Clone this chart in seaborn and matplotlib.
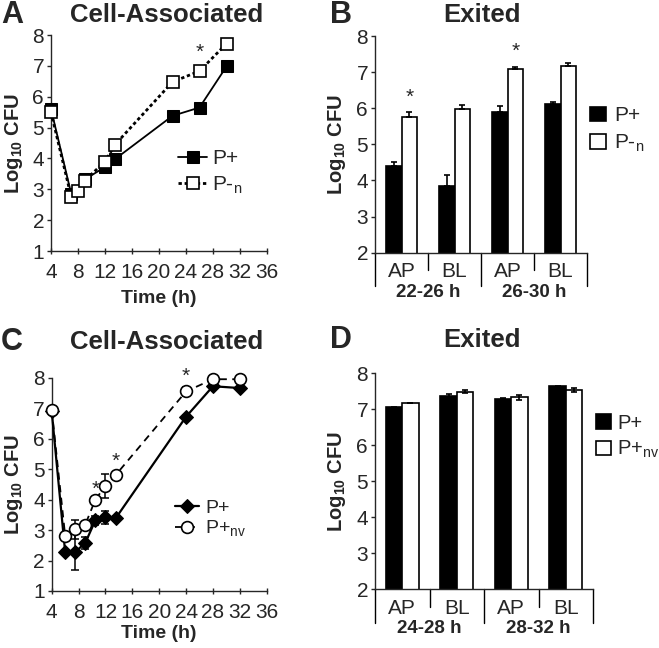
import numpy as np
import pandas as pd
import matplotlib
matplotlib.use('Agg')
import matplotlib.pyplot as plt
import matplotlib.transforms as mtrans
import seaborn as sns

# --- Data ---
# Panel A: cell-associated, P+ vs P-n
a_time_pos = [4, 7, 9, 12, 13.5, 22, 26, 30]
a_pos = [5.6, 2.85, 3.32, 3.72, 3.98, 5.38, 5.65, 6.98]
a_time_neg = [4, 7, 8, 9, 12, 13.5, 22, 26, 30]
a_neg = [5.5, 2.75, 2.95, 3.28, 3.9, 4.45, 6.48, 6.83, 7.72]
a_stars = [(26, 7.45)]

# Panel C: cell-associated, P+ vs P+nv
c_time = [4, 6, 7.5, 9, 10.5, 12, 13.5, 24, 28, 32]
c_pos = [6.9, 2.28, 2.28, 2.58, 3.32, 3.42, 3.38, 6.72, 7.72, 7.66]
c_pos_err = [0.0, 0.08, 0.6, 0.2, 0.15, 0.22, 0.08, 0.05, 0.05, 0.05]
c_nv = [6.95, 2.82, 3.02, 3.18, 4.0, 4.45, 4.8, 7.55, 7.95, 7.95]
c_nv_err = [0.0, 0.05, 0.3, 0.08, 0.1, 0.4, 0.08, 0.15, 0.03, 0.03]
c_stars = [(10.5, 4.35), (13.5, 5.25), (24, 8.05)]

# Panels B and D: exited bacteria
bar_sites = ['AP', 'BL', 'AP', 'BL']
b_groups = ['22-26 h', '26-30 h']
b_pos = [4.41, 3.86, 5.9, 6.12]
b_pos_err = [0.1, 0.28, 0.17, 0.06]
b_neg = [5.77, 5.97, 7.1, 7.16]
b_neg_err = [0.13, 0.12, 0.04, 0.1]
b_stars = [(0, 6.3), (2, 7.58)]

d_groups = ['24-28 h', '28-32 h']
d_pos = [7.06, 7.38, 7.3, 7.64]
d_pos_err = [0.01, 0.05, 0.02, 0.01]
d_nv = [7.17, 7.49, 7.33, 7.54]
d_nv_err = [0.0, 0.04, 0.06, 0.06]

LBL_POS = 'P+'
LBL_NEG = 'P-$_{\\mathregular{n}}$'
LBL_NV = 'P+$_{\\mathregular{nv}}$'

# --- Style ---
sns.set_style('ticks')
plt.rcParams['font.family'] = ['Liberation Sans', 'DejaVu Sans']
plt.rcParams['mathtext.fontset'] = 'custom'
plt.rcParams['mathtext.rm'] = 'Liberation Sans'
plt.rcParams['mathtext.bf'] = 'Liberation Sans:bold'
plt.rcParams['axes.linewidth'] = 1.0

TICK_FS = 15
YLABEL_FS = 14.5
XLABEL_FS = 14
GROUP_FS = 13.5
TITLE_FS = 18.5
YLABEL = 'Log$_{\\mathregular{10}}$ CFU'

fig = plt.figure(figsize=(6.59, 6.48), dpi=100)
W, H = 659, 648


def add_axes_px(x0, y0, x1, y1):
    return fig.add_axes([x0 / W, 1 - y1 / H, (x1 - x0) / W, (y1 - y0) / H])


def line_panel(ax):
    ax.set_xlim(4, 36)
    ax.set_ylim(1, 8)
    ax.set_xticks(np.arange(4, 37, 4))
    ax.set_yticks(np.arange(1, 9))
    sns.despine(ax=ax)
    ax.tick_params(axis='y', direction='out', length=3, width=1, pad=2, labelsize=TICK_FS)
    ax.tick_params(axis='x', direction='inout', length=4, width=1, pad=6.5, labelsize=TICK_FS)
    ax.set_ylabel(YLABEL, fontsize=YLABEL_FS, fontweight='bold')
    ax.set_xlabel('Time (h)', fontsize=XLABEL_FS, fontweight='bold')


def bar_panel(ax, pos, pos_err, other, other_err, other_label, groups, both_sides):
    df = pd.DataFrame({
        'slot': [f'{s} {g}' for g in groups for s in ['AP', 'BL']] * 2,
        'val': pos + other,
        'strain': [LBL_POS] * 4 + [other_label] * 4,
    })
    sns.barplot(data=df, x='slot', y='val', hue='strain', palette=['black', 'white'],
                edgecolor='black', linewidth=1.2, width=0.6, errorbar=None, ax=ax)
    for cont, err in zip(ax.containers, [pos_err, other_err]):
        xs = [p.get_x() + p.get_width() / 2 for p in cont]
        ys = [p.get_height() for p in cont]
        err = np.array(err)
        yerr = [err, err] if both_sides else [np.zeros_like(err), err]
        ax.errorbar(xs, ys, yerr=yerr, fmt='none', ecolor='black', elinewidth=1.2,
                    capsize=2.5, capthick=1.2, zorder=5)
    ax.set_xlim(-0.5, 3.5)
    ax.set_ylim(2, 8)
    ax.set_yticks(np.arange(2, 9))
    sns.despine(ax=ax)
    ax.tick_params(axis='y', direction='out', length=3, width=1, pad=2, labelsize=TICK_FS)
    ax.tick_params(axis='x', length=0, pad=7, labelsize=TICK_FS)
    ax.set_xticks(range(4))
    ax.set_xticklabels(bar_sites)
    ax.set_xlabel('')
    ax.set_ylabel(YLABEL, fontsize=YLABEL_FS, fontweight='bold')
    ax.yaxis.set_label_coords(-0.125, 0.5)
    trans = mtrans.blended_transform_factory(ax.transData, ax.transAxes)
    for b in np.arange(-0.5, 4, 1.0):
        depth = -0.155 if b in (-0.5, 1.5, 3.5) else -0.08
        ax.plot([b, b], [0, depth], color='black', lw=1.0, transform=trans, clip_on=False)
    for i, g in enumerate(groups):
        ax.text(2 * i + 0.5, -0.182, g, transform=trans, ha='center', va='center',
                fontsize=GROUP_FS, fontweight='bold')
    handles, labels = ax.get_legend_handles_labels()
    return handles, labels


# --- Panel A ---
axA = add_axes_px(51, 35, 267, 251)
sns.lineplot(x=a_time_pos, y=a_pos, color='black', lw=1.3, marker='s', markersize=8.5,
             markerfacecolor='black', markeredgecolor='black', label=LBL_POS, ax=axA,
             clip_on=False, zorder=3)
sns.lineplot(x=a_time_neg, y=a_neg, color='black', lw=2.0, linestyle=(0, (1.2, 1.0)),
             marker='s', markersize=8.5, markerfacecolor='white', markeredgecolor='black',
             markeredgewidth=1.2, label=LBL_NEG, ax=axA, clip_on=False, zorder=4)
line_panel(axA)
axA.yaxis.set_label_coords(-0.12, 0.5)
axA.xaxis.set_label_coords(0.5, -0.18)
for sx, sy in a_stars:
    axA.text(sx, sy, '*', ha='center', va='center', fontsize=15)
axA.legend(loc='upper left', bbox_to_anchor=(0.588, 0.47), frameon=False, fontsize=TICK_FS,
           handlelength=1.4, handletextpad=0.25, labelspacing=0.3, borderpad=0, borderaxespad=0)

# --- Panel C ---
axC = add_axes_px(51.7, 377.7, 266.7, 591)
axC.errorbar(c_time, c_pos, yerr=c_pos_err, fmt='none', ecolor='black', elinewidth=1.1,
             capsize=3, capthick=1.1, zorder=1)
axC.errorbar(c_time, c_nv, yerr=c_nv_err, fmt='none', ecolor='black', elinewidth=1.1,
             capsize=3, capthick=1.1, zorder=1)
sns.lineplot(x=c_time, y=c_pos, color='black', lw=1.6, marker='D', markersize=7.5,
             markerfacecolor='black', markeredgecolor='black', label=LBL_POS, ax=axC,
             zorder=3, clip_on=False)
sns.lineplot(x=c_time, y=c_nv, color='black', lw=1.3, linestyle=(0, (4, 3)),
             marker='o', markersize=8.5, markerfacecolor='white', markeredgecolor='black',
             markeredgewidth=1.2, label=LBL_NV, ax=axC, zorder=4, clip_on=False)
line_panel(axC)
axC.yaxis.set_label_coords(-0.124, 0.5)
axC.xaxis.set_label_coords(0.5, -0.16)
for sx, sy in c_stars:
    axC.text(sx, sy, '*', ha='center', va='center', fontsize=15)
axC.legend(loc='upper left', bbox_to_anchor=(0.573, 0.43), frameon=False, fontsize=14,
           handlelength=1.25, handletextpad=0.3, labelspacing=0.1, borderpad=0, borderaxespad=0)

# --- Panel B ---
axB = add_axes_px(375, 36, 587, 252.7)
h, l = bar_panel(axB, b_pos, b_pos_err, b_neg, b_neg_err, LBL_NEG, b_groups, both_sides=False)
for sx, sy in b_stars:
    axB.text(sx + 0.15, sy, '*', ha='center', va='center', fontsize=15)
axB.legend(h, l, loc='upper left', bbox_to_anchor=(1.014, 0.676), frameon=False,
           fontsize=TICK_FS, handlelength=0.77, handleheight=0.72, handletextpad=0.38,
           labelspacing=0.36, borderpad=0, borderaxespad=0)

# --- Panel D ---
axD = add_axes_px(375, 373.3, 593, 589.3)
h, l = bar_panel(axD, d_pos, d_pos_err, d_nv, d_nv_err, LBL_NV, d_groups, both_sides=True)
axD.legend(h, l, loc='upper left', bbox_to_anchor=(1.012, 0.813), frameon=False,
           fontsize=14.5, handlelength=0.77, handleheight=0.72, handletextpad=0.3,
           labelspacing=0.3, borderpad=0, borderaxespad=0)

# --- Panel letters and titles ---
title_kw = dict(fontsize=TITLE_FS, fontweight='bold', ha='center', va='center')
for letter, lx, title, tx, ty in [('A', 12, 'Cell-Associated', 167, 15),
                                   ('B', 341, 'Exited', 482, 15),
                                   ('C', 12, 'Cell-Associated', 167, 342),
                                   ('D', 341, 'Exited', 482, 340)]:
    fig.text(lx / W, 1 - ty / H, letter, fontsize=22, fontweight='bold', ha='center', va='center')
    fig.text(tx / W, 1 - ty / H, title, **title_kw)

fig.savefig('out.png', dpi=100)
